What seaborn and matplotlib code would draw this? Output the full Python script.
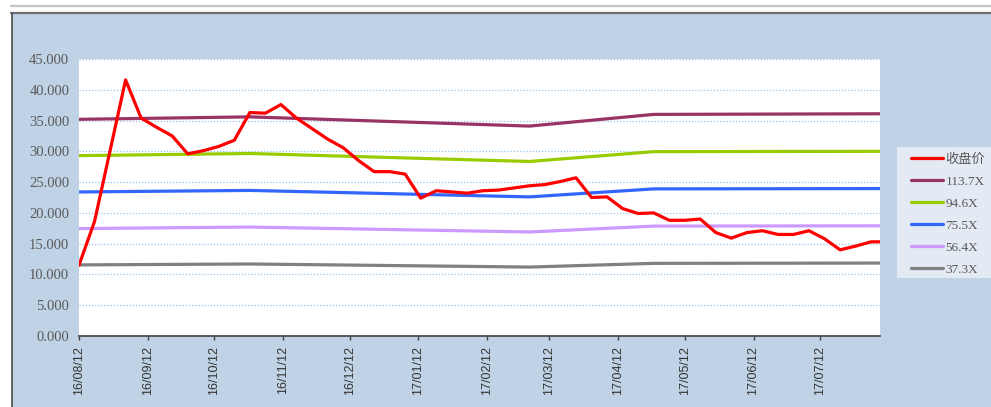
import pandas as pd
import numpy as np
import matplotlib
matplotlib.use('Agg')
import matplotlib.pyplot as plt
import matplotlib.dates as mdates
from matplotlib.patches import Rectangle
from matplotlib.lines import Line2D
import seaborn as sns

# ------------------------------------------------
# DATA
# ------------------------------------------------
price_dates = list(pd.date_range('2016-08-12', periods=52, freq='7D')) + [pd.Timestamp('2017-08-08')]
close_price = [11.5, 18.6, 30.1, 41.6, 35.4, 33.9, 32.5, 29.6, 30.1, 30.8,
               31.8, 36.3, 36.2, 37.6, 35.4, 33.7, 32.0, 30.6, 28.5, 26.7,
               26.7, 26.3, 22.4, 23.6, 23.4, 23.2, 23.6, 23.7, 24.05, 24.4,
               24.6, 25.1, 25.7, 22.5, 22.6, 20.7, 19.9, 20.0, 18.8, 18.8,
               19.0, 16.8, 15.9, 16.8, 17.1, 16.5, 16.5, 17.1, 15.8, 14.0,
               14.6, 15.3, 15.3]

band_dates = pd.to_datetime(['2016-08-12', '2016-10-28', '2017-03-03', '2017-04-28', '2017-08-08'])
pe_113_7 = [35.2, 35.6, 34.1, 36.0, 36.1]
pe_94_6 = [29.3, 29.65, 28.35, 29.95, 30.0]
pe_75_5 = [23.4, 23.65, 22.6, 23.9, 23.95]
pe_56_4 = [17.45, 17.7, 16.9, 17.85, 17.9]
pe_37_3 = [11.55, 11.7, 11.2, 11.8, 11.85]

series_names = ['收盘价', '113.7X', '94.6X', '75.5X', '56.4X', '37.3X']
colors = ['#FF0000', '#993366', '#99CC00', '#3366FF', '#CC99FF', '#808080']

frames = [pd.DataFrame({'date': price_dates, 'value': close_price, 'series': '收盘价'})]
for name, vals in zip(series_names[1:], [pe_113_7, pe_94_6, pe_75_5, pe_56_4, pe_37_3]):
    frames.append(pd.DataFrame({'date': band_dates, 'value': vals, 'series': name}))
df = pd.concat(frames, ignore_index=True)

# ------------------------------------------------
# FIGURE
# ------------------------------------------------
sns.set_theme(style='white')
plt.rcParams['font.family'] = ['Liberation Serif', 'Noto Sans CJK SC']

fig = plt.figure(figsize=(9.91, 4.07), dpi=100)
fig.patch.set_facecolor('white')

W, H = 991, 407
# blue panel + frame lines
fig.patches.append(Rectangle((11.5 / W, 0), 1 - 11.5 / W, (H - 13) / H,
                             transform=fig.transFigure, facecolor='#C0D3E6',
                             edgecolor='none', zorder=-5))
# legend background box
fig.patches.append(Rectangle((897 / W, 1 - 278 / H), (991 - 897) / W, (278 - 147) / H,
                             transform=fig.transFigure, facecolor='#E3EAF3',
                             edgecolor='none', zorder=-4))
fig.lines.append(Line2D([11 / W, 1], [1 - 13 / H, 1 - 13 / H], transform=fig.transFigure,
                        color='#6E6E6E', lw=1.6))
fig.lines.append(Line2D([11.8 / W, 11.8 / W], [0, 1 - 13 / H], transform=fig.transFigure,
                        color='#4A4A4A', lw=1.2))
fig.lines.append(Line2D([11 / W, 1], [1 - 5.5 / H, 1 - 5.5 / H], transform=fig.transFigure,
                        color='#CBC2CE', lw=1.6))

ax = fig.add_axes([79 / W, 1 - 336 / H, (880 - 79) / W, (336 - 59) / H])
ax.set_facecolor('white')

sns.lineplot(data=df, x='date', y='value', hue='series', hue_order=series_names,
             palette=colors, estimator=None, linewidth=2.3, ax=ax, legend=True)
ax.lines[0].set_zorder(5)

ax.set_xlim(pd.Timestamp('2016-08-12'), pd.Timestamp('2017-08-08'))
ax.set_ylim(0, 45)
ax.set_yticks(np.arange(0, 46, 5))
ax.yaxis.set_major_formatter(matplotlib.ticker.FormatStrFormatter('%.3f'))
ax.xaxis.set_major_locator(mdates.MonthLocator(bymonthday=12))
ax.xaxis.set_major_formatter(mdates.DateFormatter('%y/%m/%d'))
ax.set_xlabel('')
ax.set_ylabel('')

for y in range(5, 46, 5):
    ax.axhline(y, color='#9DC3E6', lw=0.9, ls=(0, (1, 1.5)), zorder=1)

for s in ['top', 'right', 'left']:
    ax.spines[s].set_visible(False)
ax.spines['bottom'].set_color('#404040')
ax.spines['bottom'].set_linewidth(1.2)

ax.tick_params(axis='y', length=0, pad=7, labelsize=10.5, labelcolor='#595959')
ax.tick_params(axis='x', direction='out', length=3, width=1, color='#404040',
               pad=4, labelsize=9, labelcolor='#333333', bottom=True)
for lbl in ax.get_xticklabels():
    lbl.set_rotation(90)
    lbl.set_family('Liberation Sans')

handles, labels = ax.get_legend_handles_labels()
ax.legend(handles, labels, loc='upper left', bbox_to_anchor=(906 / W, 1 - 148 / H),
          bbox_transform=fig.transFigure, borderaxespad=0, fontsize=9.5,
          handlelength=2.4, handletextpad=0.2, labelspacing=0.74, borderpad=0.4,
          frameon=False, labelcolor='#595959')
ax.get_legend().set_zorder(10)
ax.get_legend().set_clip_on(False)

plt.savefig('out.png', dpi=100)
